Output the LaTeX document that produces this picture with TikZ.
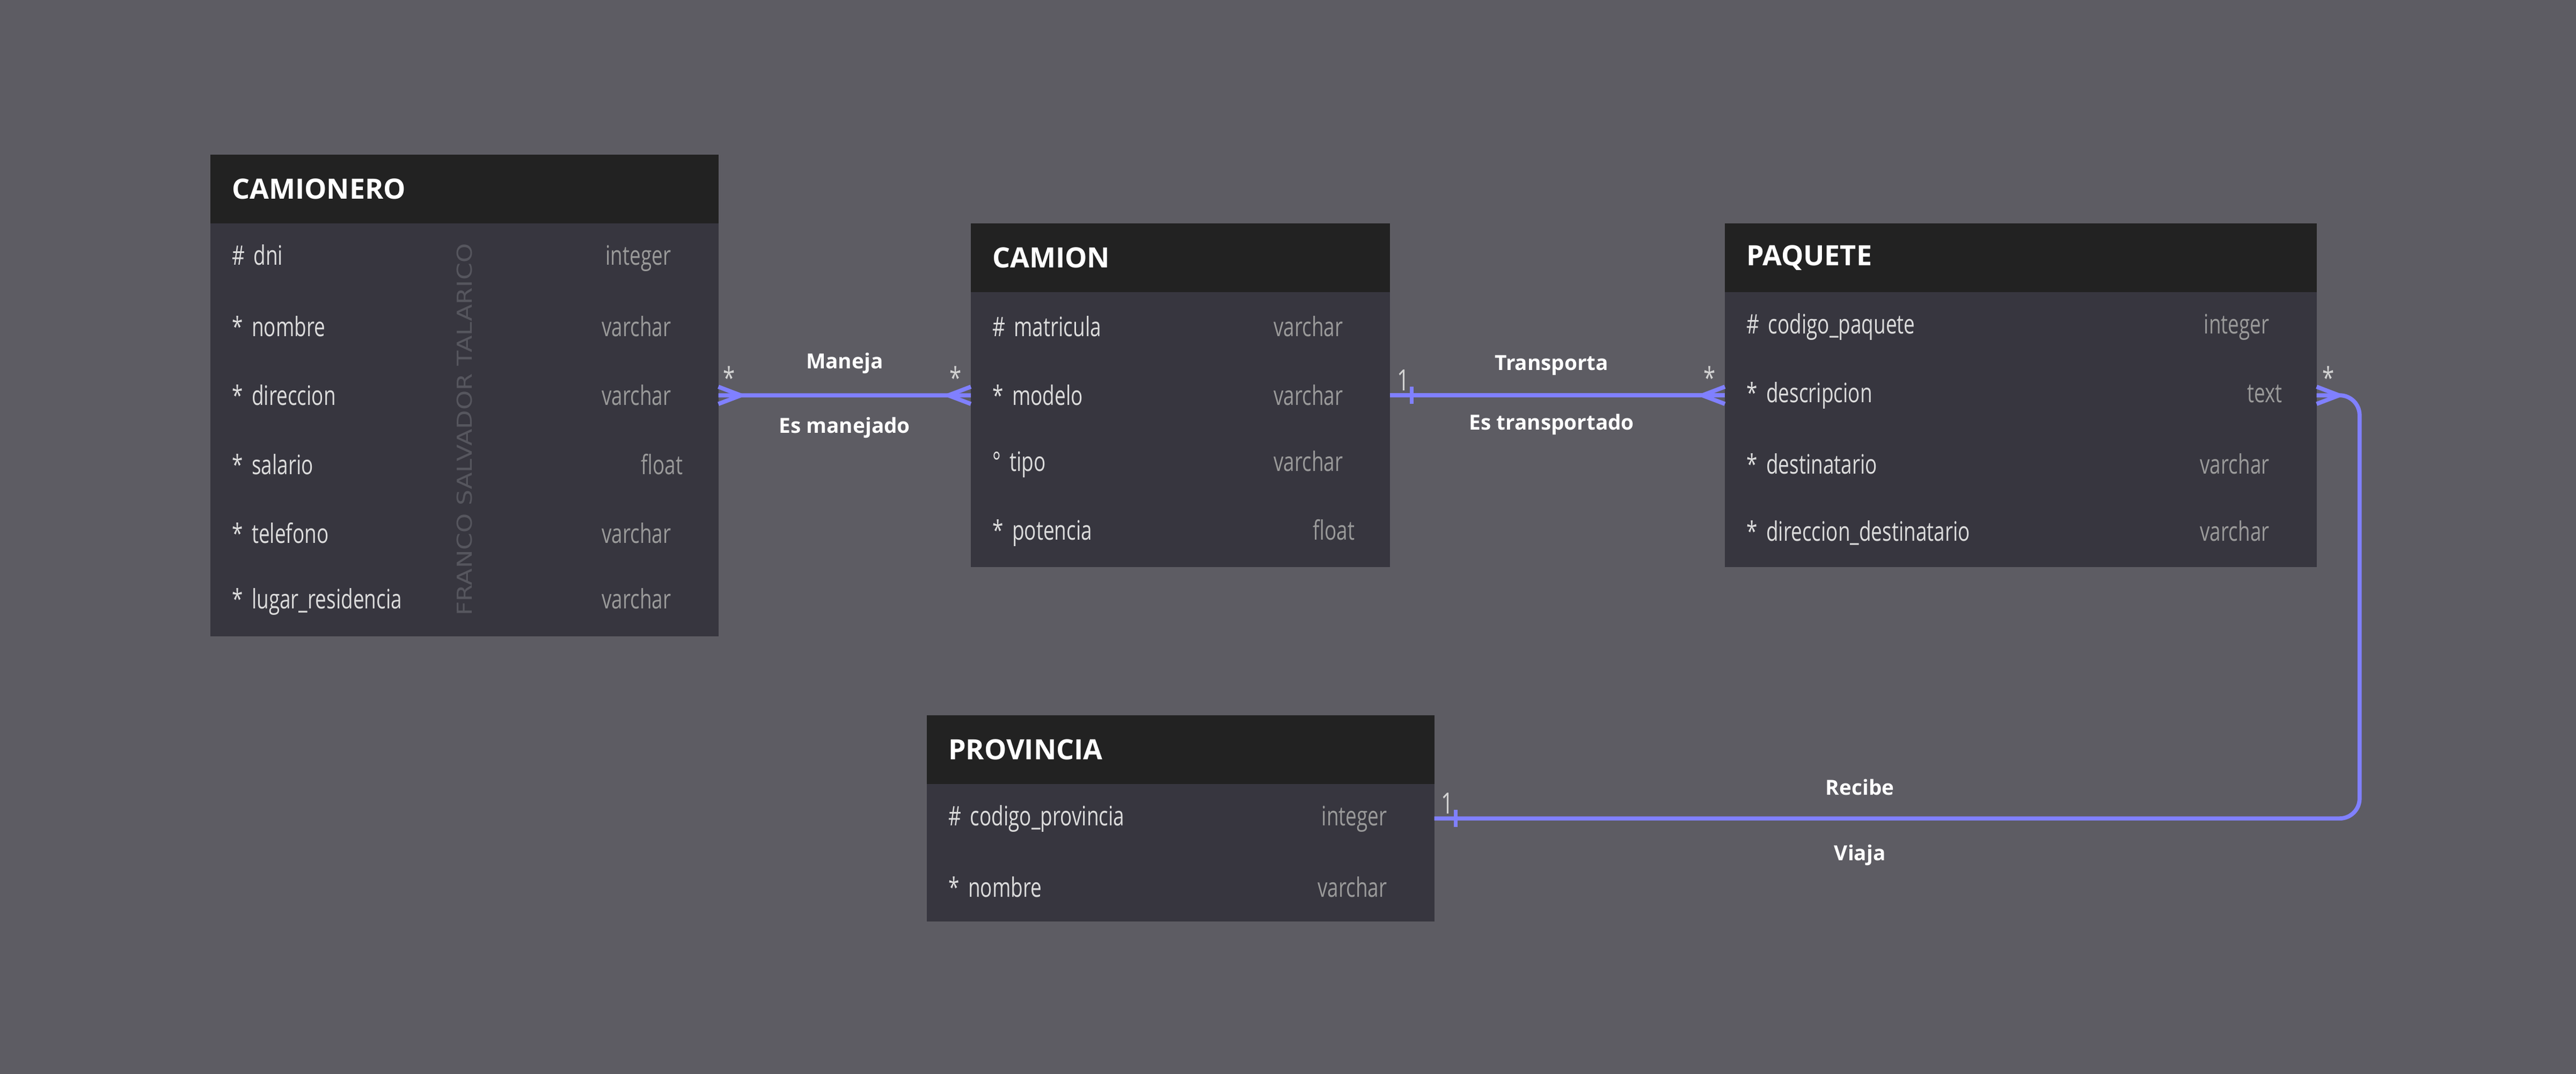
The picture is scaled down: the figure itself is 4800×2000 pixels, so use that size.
\documentclass[tikz,border=0pt]{standalone}
\usepackage{fontspec}
\setmainfont{Open Sans}
\newfontfamily\attrfont[FakeStretch=0.74]{Open Sans}
\newfontfamily\markfont[FakeStretch=1.2]{DejaVu Sans}
\usetikzlibrary{positioning}

\definecolor{canvas}{HTML}{5D5C63}
\definecolor{headbg}{HTML}{222222}
\definecolor{bodybg}{HTML}{37363F}
\definecolor{fieldtxt}{HTML}{DCDCDC}
\definecolor{typetxt}{HTML}{9A9A9A}
\definecolor{multtxt}{HTML}{D2D2D2}
\definecolor{marktxt}{HTML}{56565E}
\definecolor{relblue}{HTML}{8080FF}

\newcommand\fieldrow[3][0.48cm]{#2\hspace{\fill}{\color{typetxt}#3}\hspace*{#1}}

\begin{document}
\begin{tikzpicture}[
            x=0.01cm, y=-0.01cm,
            entity/.style={rectangle, fill=headbg, text=white, font=\bfseries\fontsize{14.8}{16}\selectfont, text width=#1, inner xsep=0.4cm, inner ysep=0pt, minimum height=1.28cm, outer sep=0pt},
            attr/.style={rectangle, fill=bodybg, text=fieldtxt, font=\attrfont\fontsize{14.2}{16}\selectfont, text width=#1, inner xsep=0.4cm, inner ysep=0pt, minimum height=1.28cm, outer sep=0pt},
            rel/.style={draw=relblue, line width=2.2pt},
            rlabel/.style={text=white, font=\bfseries\fontsize{11}{13}\selectfont},
            mult/.style={text=multtxt, font=\attrfont\fontsize{15.5}{17}\selectfont, inner sep=0pt},
            many/.pic={\draw[rel] (0,-16) -- (42,0) -- (0,16);},
            one/.pic={\draw[rel] (40,-16) -- (40,16);}
            ]
            
            % Background
            \fill[canvas] (0,0) rectangle (4800,2000);
            \useasboundingbox (0,0) rectangle (4800,2000);
            
            % CAMIONERO
            \node[entity=8.66cm, anchor=north west] (camionero) at (392,288) {CAMIONERO};
            \node[attr=8.66cm, below=0pt of camionero] (dni) {\fieldrow{\# dni}{integer}};
            \node[attr=8.66cm, below=0pt of dni] (nombre) {\fieldrow{* nombre}{varchar}};
            \node[attr=8.66cm, below=0pt of nombre] (direccion) {\fieldrow{* direccion}{varchar}};
            \node[attr=8.66cm, below=0pt of direccion] (salario) {\fieldrow[0.26cm]{* salario}{float}};
            \node[attr=8.66cm, below=0pt of salario] (telefono) {\fieldrow{* telefono}{varchar}};
            \node[attr=8.66cm, below=0pt of telefono] (residencia) {\fieldrow{* lugar\_residencia}{varchar}};
            \node[rotate=90, text=marktxt, font=\markfont\fontsize{10.9}{12}\selectfont] (firma) at (866,800) {FRANCO SALVADOR TALARICO};
            
            % CAMION
            \node[entity=7.01cm, anchor=north west] (camion) at (1809,416) {CAMION};
            \node[attr=7.01cm, below=0pt of camion] (matricula) {\fieldrow{\# matricula}{varchar}};
            \node[attr=7.01cm, below=0pt of matricula] (modelo) {\fieldrow{* modelo}{varchar}};
            \node[attr=7.01cm, below=0pt of modelo] (tipo) {\fieldrow{° tipo}{varchar}};
            \node[attr=7.01cm, below=0pt of tipo] (potencia) {\fieldrow[0.26cm]{* potencia}{float}};
            
            % PAQUETE
            \node[entity=10.22cm, anchor=north west] (paquete) at (3214,416) {PAQUETE};
            \node[attr=10.22cm, below=0pt of paquete] (codpaq) {\fieldrow{\# codigo\_paquete}{integer}};
            \node[attr=10.22cm, below=0pt of codpaq] (descripcion) {\fieldrow[0.24cm]{* descripcion}{text}};
            \node[attr=10.22cm, below=0pt of descripcion] (destinatario) {\fieldrow{* destinatario}{varchar}};
            \node[attr=10.22cm, below=0pt of destinatario] (dirdest) {\fieldrow{* direccion\_destinatario}{varchar}};
            
            % PROVINCIA
            \node[entity=8.65cm, anchor=north west] (provincia) at (1727,1332) {PROVINCIA};
            \node[attr=8.65cm, below=0pt of provincia] (codprov) {\fieldrow{\# codigo\_provincia}{integer}};
            \node[attr=8.65cm, below=0pt of codprov] (provnombre) {\fieldrow{* nombre}{varchar}};
            
            % Relations
            \draw[rel] (direccion.east) -- node[rlabel, yshift=0.6cm] {Maneja} node[rlabel, yshift=-0.6cm] {Es manejado} (modelo.west);
            \draw[rel] (modelo.east) -- node[rlabel, xshift=-0.11cm, yshift=0.56cm] {Transporta} node[rlabel, xshift=-0.11cm, yshift=-0.54cm] {Es transportado} (descripcion.west);
            \coordinate (bend) at ([xshift=0.8cm]descripcion.east);
            \draw[rel, rounded corners=0.37cm] (descripcion.east) -- (bend) |- node[pos=0.77, rlabel, yshift=0.58cm] {Recibe} node[pos=0.77, rlabel, yshift=-0.68cm] {Viaja} (codprov.east);
            
            % Ends
            \pic at (direccion.east) {many};
            \pic[xscale=-1] at (modelo.west) {many};
            \pic at (modelo.east) {one};
            \pic[xscale=-1] at (descripcion.west) {many};
            \pic at (descripcion.east) {many};
            \pic at (codprov.east) {one};
            
            % Multiplicities
            \node[mult, anchor=south west] (m1) at ([xshift=0.08cm, yshift=0.12cm]direccion.east) {*};
            \node[mult, anchor=south east] (m2) at ([xshift=-0.17cm, yshift=0.12cm]modelo.west) {*};
            \node[mult, anchor=south west] (m3) at ([xshift=0.12cm, yshift=0.08cm]modelo.east) {1};
            \node[mult, anchor=south east] (m4) at ([xshift=-0.17cm, yshift=0.12cm]descripcion.west) {*};
            \node[mult, anchor=south west] (m5) at ([xshift=0.1cm, yshift=0.12cm]descripcion.east) {*};
            \node[mult, anchor=south west] (m6) at ([xshift=0.12cm, yshift=0.08cm]codprov.east) {1};
            
        \end{tikzpicture}
\end{document}
